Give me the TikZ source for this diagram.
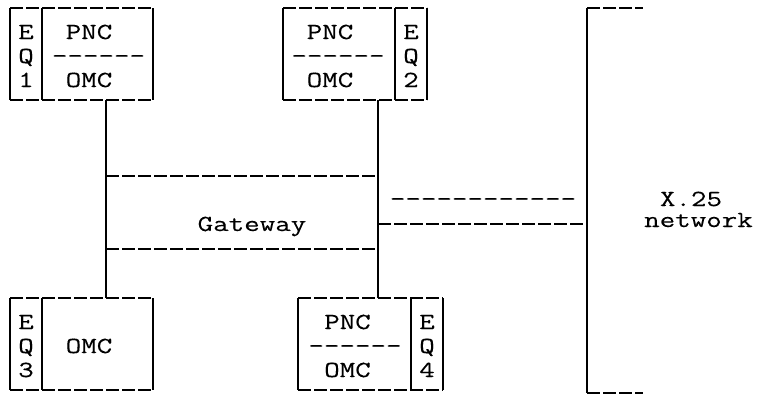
\documentclass[tikz,border=0pt]{standalone}
\usepackage{fontspec}
\newfontfamily\asc{Latin Modern Mono}[FakeStretch=1.31,FakeBold=0.25]
\begin{document}
\begin{tikzpicture}[x=1pt,y=-1pt,
  txt/.style={font=\asc\fontsize{23}{26}\selectfont, inner sep=0pt, anchor=base},
  hd/.style={line width=1.6pt, dash pattern=on 13pt off 3pt},
  vs/.style={line width=1.2pt},
  boxn/.style={inner sep=0pt, outer sep=0pt, draw=none}]
\useasboundingbox (0,0) rectangle (758,394);

% boxes
\node[boxn, minimum width=143pt, minimum height=92pt] (eq1) at (81.5,54) {};
\node[boxn, minimum width=144pt, minimum height=92pt] (eq2) at (355,54) {};
\node[boxn, minimum width=143pt, minimum height=92pt] (eq3) at (81.5,344) {};
\node[boxn, minimum width=145pt, minimum height=92pt] (eq4) at (370.5,344) {};
\foreach \b in {eq1,eq2,eq3,eq4} {
  \draw[hd] (\b.north west) -- (\b.north east) (\b.south west) -- (\b.south east);
  \draw[vs] (\b.north west) -- (\b.south west) (\b.north east) -- (\b.south east);
}
% dividers
\coordinate (d1) at (42,54);
\coordinate (d2) at (395,54);
\coordinate (d3) at (42,344);
\coordinate (d4) at (411,344);
\draw[vs] (d1 |- eq1.north) -- (d1 |- eq1.south);
\draw[vs] (d2 |- eq2.north) -- (d2 |- eq2.south);
\draw[vs] (d3 |- eq3.north) -- (d3 |- eq3.south);
\draw[vs] (d4 |- eq4.north) -- (d4 |- eq4.south);

% texts of box 1
\node[txt] (e1) at (26,39) {E};
\node[txt] (q1) at (26,63) {Q};
\node[txt] (n1) at (26,87) {1};
\node[txt] (p1) at (89,39) {PNC};
\node[txt] (h1) at (98.5,63) {------};
\node[txt] (o1) at (89,87) {OMC};
% box 2
\node[txt] (p2) at (330,39) {PNC};
\node[txt] (h2) at (338,63) {------};
\node[txt] (o2) at (330,87) {OMC};
\node[txt] (e2) at (411,39) {E};
\node[txt] (q2) at (411,63) {Q};
\node[txt] (n2) at (411,87) {2};
% box 3
\node[txt] (e3) at (26,329) {E};
\node[txt] (q3) at (26,353) {Q};
\node[txt] (n3) at (26,377) {3};
\node[txt] (o3) at (89,353) {OMC};
% box 4
\node[txt] (p4) at (347.5,329) {PNC};
\node[txt] (h4) at (355,353) {------};
\node[txt] (o4) at (347.5,377) {OMC};
\node[txt] (e4) at (427,329) {E};
\node[txt] (q4) at (427,353) {Q};
\node[txt] (n4) at (427,377) {4};

% gateway
\coordinate (gl) at (106,212);
\coordinate (gr) at (378,212);
\draw[vs] (gl |- eq1.south) -- (gl |- eq3.north);
\draw[vs] (gr |- eq2.south) -- (gr |- eq4.north);
\coordinate (gt) at (0,176);
\coordinate (gb) at (0,249);
\draw[hd] (gl |- gt) -- (gr |- gt);
\draw[hd] (gl |- gb) -- (gr |- gb);
\node[txt] (gw) at (252,231) {Gateway};

% X.25 network
\coordinate (xt) at (587,8);
\coordinate (xb) at (587,393);
\coordinate (xte) at (643,8);
\coordinate (xbe) at (643,393);
\draw[vs] (xt) -- (xb);
\draw[hd] (xt) -- (xte);
\draw[hd] (xb) -- (xbe);
\coordinate (cl) at (0,224);
\draw[hd] (gr |- cl) -- (xt |- cl);
\node[txt] (hx) at (483,206) {------------};
\node[txt] (x25) at (691,206) {X.25};
\node[txt] (net) at (698.5,227) {network};
\end{tikzpicture}
\end{document}
